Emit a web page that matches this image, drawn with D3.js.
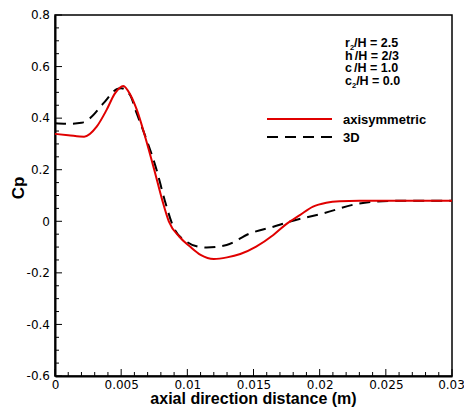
<!DOCTYPE html>
<html><head><meta charset="utf-8">
<script src="https://cdn.jsdelivr.net/npm/d3@7"></script>
<style>body{margin:0;background:#fff}svg{display:block}</style>
</head><body>
<script>
// Data
const axiX = [0,0.001,0.0022,0.00315,0.0039,0.00453,0.00516,0.0057,0.0062,0.0068,0.0075,0.0081,0.0086,0.0094,0.0102,0.011,0.012,0.013,0.014,0.0152,0.0165,0.0175,0.0185,0.0195,0.0205,0.0215,0.023,0.03];
const axiY = [0.339,0.334,0.328,0.367,0.432,0.496,0.525,0.49,0.43,0.33,0.2,0.083,0.0,-0.06,-0.098,-0.13,-0.146,-0.14,-0.127,-0.098,-0.053,-0.01,0.024,0.057,0.072,0.078,0.08,0.08];
const d3X = [0,0.001,0.002,0.00265,0.00365,0.00466,0.005,0.00567,0.00617,0.00693,0.00768,0.0083,0.00894,0.00995,0.0107,0.01146,0.01297,0.01474,0.0165,0.01776,0.02028,0.0228,0.0253,0.03];
const d3Y = [0.38,0.378,0.382,0.40,0.457,0.512,0.516,0.49,0.419,0.315,0.199,0.08,-0.021,-0.079,-0.097,-0.102,-0.092,-0.047,-0.021,-0.001,0.031,0.067,0.079,0.08];
const xTicks = [0,0.005,0.01,0.015,0.02,0.025,0.03];
const xTickLabels = ["0","0.005","0.01","0.015","0.02","0.025","0.03"];
const yTicks = [-0.6,-0.4,-0.2,0,0.2,0.4,0.6,0.8];
const yTickLabels = ["-0.6","-0.4","-0.2","0","0.2","0.4","0.6","0.8"];
const seriesNames = ["axisymmetric","3D"];
const annotations = [["r","2","/H = 2.5"],["h"," ","/H = 2/3"],["c"," ","/H = 1.0"],["c","2","/H = 0.0"]];

const W=464,H=409;
const L=55,R=452,T=15,B=376;
const svg=d3.select("body").append("svg").attr("width",W).attr("height",H);
const x=d3.scaleLinear().domain([0,0.03]).range([L,R]);
const y=d3.scaleLinear().domain([-0.6,0.8]).range([B,T]);
const tickFont="DejaVu Sans, sans-serif";
const boldFont="Liberation Sans, Arial, sans-serif";

// frame
svg.append("rect").attr("x",L).attr("y",T).attr("width",R-L).attr("height",B-T)
  .attr("fill","none").attr("stroke","#000").attr("stroke-width",1.5);

// minor ticks
const xMinor=d3.range(0,31).map(i=>i*0.001);
svg.append("g").selectAll("line").data(xMinor).join("line")
  .attr("x1",d=>x(d)).attr("x2",d=>x(d)).attr("y1",B).attr("y2",d=>B-(Math.round(d*1000)%5===0?7:4))
  .attr("stroke","#000").attr("stroke-width",1);
const yMinor=d3.range(0,29).map(i=>-0.6+i*0.05);
svg.append("g").selectAll("line").data(yMinor).join("line")
  .attr("y1",d=>y(d)).attr("y2",d=>y(d)).attr("x1",L).attr("x2",d=>L+(Math.round(d*100)%20===0?7:4))
  .attr("stroke","#000").attr("stroke-width",1);

// axes (labels)
const xa=svg.append("g").attr("transform",`translate(0,${B})`)
  .call(d3.axisBottom(x).tickValues(xTicks).tickFormat((d,i)=>xTickLabels[i]).tickSize(0).tickPadding(4));
xa.select(".domain").attr("stroke","#000").attr("stroke-width",2);
xa.selectAll("text").attr("font-family",tickFont).attr("font-size",12).attr("fill","#000")
  .attr("dy",null).attr("y",13);
xa.selectAll(".tick").filter((d,i)=>i===xTicks.length-1).select("text").attr("x",-1);
const ya=svg.append("g").attr("transform",`translate(${L},0)`)
  .call(d3.axisLeft(y).tickValues(yTicks).tickFormat((d,i)=>yTickLabels[i]).tickSize(0).tickPadding(5));
ya.select(".domain").attr("stroke","#000").attr("stroke-width",2);
ya.selectAll("text").attr("font-family",tickFont).attr("font-size",12).attr("fill","#000");

// titles
svg.append("text").attr("x",(L+R)/2).attr("y",404).attr("text-anchor","middle")
  .attr("font-family",boldFont).attr("font-weight","bold").attr("font-size",16)
  .text("axial direction distance (m)");
svg.append("text").attr("transform","translate(24,188) rotate(-90)").attr("text-anchor","middle")
  .attr("font-family",boldFont).attr("font-weight","bold").attr("font-size",17)
  .text("Cp");

// lines
const line=d3.line().x(d=>x(d[0])).y(d=>y(d[1])).curve(d3.curveMonotoneX);
const g=svg.append("g");
g.append("path").datum(d3X.map((v,i)=>[v,d3Y[i]])).attr("d",line)
  .attr("fill","none").attr("stroke","#000").attr("stroke-width",2).attr("stroke-dasharray","11,7");
g.append("path").datum(axiX.map((v,i)=>[v,axiY[i]])).attr("d",line)
  .attr("fill","none").attr("stroke","#e00000").attr("stroke-width",2);

// legend
const lg=svg.append("g");
const lcol=["#e00000","#000"], ldash=[null,"11,7"];
seriesNames.forEach((n,i)=>{
  const yy=119+i*18;
  lg.append("line").attr("x1",267).attr("x2",332).attr("y1",yy).attr("y2",yy)
    .attr("stroke",lcol[i]).attr("stroke-width",2).attr("stroke-dasharray",ldash[i]);
  lg.append("text").attr("x",343).attr("y",yy+4.5)
    .attr("font-family",boldFont).attr("font-weight","bold").attr("font-size",13).text(n);
});

// annotation
annotations.forEach((a,i)=>{
  const t=svg.append("text").attr("x",345).attr("y",47+i*12.7)
    .attr("font-family",boldFont).attr("font-weight","bold").attr("font-size",12.5);
  t.append("tspan").text(a[0]);
  t.append("tspan").attr("font-size",7.5).attr("dy",2.5).text(a[1]);
  t.append("tspan").attr("dy",-2.5).text(a[2]);
});
</script>
</body></html>
